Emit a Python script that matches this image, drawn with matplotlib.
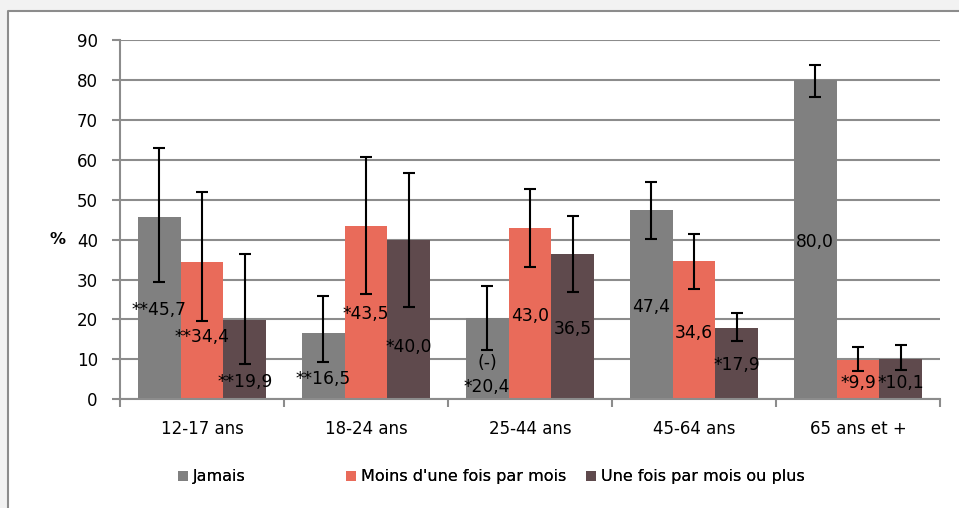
# -*- coding: utf-8 -*-
"""Fréquence par tranche d'âge : barres groupées avec intervalles de confiance."""
import numpy as np
import matplotlib; matplotlib.use("Agg")
import matplotlib.pyplot as plt
from matplotlib.patches import Rectangle
from matplotlib.lines import Line2D

AGES = ["12-17 ans", "18-24 ans", "25-44 ans", "45-64 ans", "65 ans et +"]
SERIES = ["Jamais", "Moins d'une fois par mois", "Une fois par mois ou plus"]

jamais = [45.7, 16.5, 20.4, 47.4, 80.0]
jamais_lo = [29.3, 9.4, 12.3, 40.1, 75.8]
jamais_hi = [62.9, 26.0, 28.3, 54.5, 83.7]
jamais_flag = ["**", "**", "*", "", ""]

moins = [34.4, 43.5, 43.0, 34.6, 9.9]
moins_lo = [19.7, 26.3, 33.2, 27.7, 7.2]
moins_hi = [51.9, 60.7, 52.7, 41.5, 13.2]
moins_flag = ["**", "*", "", "", "*"]

une = [19.9, 40.0, 36.5, 17.9, 10.1]
une_lo = [8.8, 23.2, 26.9, 14.7, 7.3]
une_hi = [36.4, 56.8, 45.9, 21.5, 13.5]
une_flag = ["**", "*", "", "*", "*"]

notes_jamais = ["", "", "(-)", "", ""]

# hauteur (en %) où les étiquettes sont posées, comme dans l'original
LAB_Y = [[22.3, 5.1, 3.2, 23.2, 39.4],
         [15.7, 21.3, 20.8, 16.5, 4.0],
         [4.4, 13.2, 17.5, 8.6, 4.0]]
NOTE_Y = 9.2
LEG_X = [178, 346, 586]   # position (px) de chaque entrée de légende

COLORS = ["#808080", "#e96b5a", "#5f4a4d"]
GRID = "#8c8c8c"; INK = "#000000"
plt.rcParams["font.family"] = "DejaVu Sans"

fig = plt.figure(figsize=(9.59, 5.08), dpi=100)
fig.patch.set_facecolor("#f2f2f2")
# cadre blanc du graphique (coupé à droite et en bas) : fond + bords haut/gauche
bx, by = 7.5/959, 1 - 10.5/508
fig.patches.append(Rectangle((bx, 0), 1 - bx, by, transform=fig.transFigure,
                             facecolor="white", edgecolor="none", zorder=-10))
fig.add_artist(Line2D([bx, bx, 1], [0, by, by], transform=fig.transFigure, color=GRID, lw=1.5, zorder=-9))
ax = fig.add_axes([120/959, (508-399.3)/508, 820/959, 359.3/508])
ax.set_facecolor("none")

x = np.arange(len(AGES)); w = 0.262
data = [(jamais, jamais_lo, jamais_hi, jamais_flag),
        (moins, moins_lo, moins_hi, moins_flag),
        (une, une_lo, une_hi, une_flag)]
handles = []
for i, (v, lo, hi, fl) in enumerate(data):
    v = np.array(v); xi = x + (i-1)*w
    err = [v - np.array(lo), np.array(hi) - v]
    handles.append(ax.bar(xi, v, w, color=COLORS[i], label=SERIES[i], zorder=2))
    ax.errorbar(xi, v, yerr=err, fmt="none", ecolor=INK, elinewidth=1.5,
                capsize=4.5, capthick=1.5, zorder=3)
    for k in range(len(AGES)):
        txt = fl[k] + f"{v[k]:.1f}".replace(".", ",")
        ax.text(xi[k], LAB_Y[i][k], txt, ha="center", va="center", fontsize=12.3, color=INK, zorder=4)
for k, n in enumerate(notes_jamais):
    if n:
        ax.text(x[k] - w, NOTE_Y, n, ha="center", va="center", fontsize=12.3, color=INK, zorder=4)

ax.set_xlim(-0.5, len(AGES) - 0.5); ax.set_ylim(0, 90)
ax.set_yticks(np.arange(0, 91, 10))
ax.yaxis.grid(True, color=GRID, lw=1.5); ax.set_axisbelow(True)
for s in ["top", "right"]: ax.spines[s].set_visible(False)
for s in ["left", "bottom"]: ax.spines[s].set_color(GRID); ax.spines[s].set_linewidth(1.5)
ax.tick_params(axis="y", length=6, width=1.5, color=GRID, labelsize=12, pad=10)
# graduations x aux limites des groupes, libellés au centre
ax.set_xticks(np.arange(-0.5, len(AGES), 1.0)); ax.set_xticklabels([])
ax.set_xticks(x, minor=True); ax.set_xticklabels(AGES, minor=True, fontsize=12)
ax.tick_params(axis="x", which="major", length=6, width=1.5, color=GRID)
ax.tick_params(axis="x", which="minor", length=0, pad=15)

fig.text(57/959, (508-239)/508, "%", fontsize=11.5, weight="bold", ha="center", va="center")
for h, name, lx in zip(handles, SERIES, LEG_X):
    leg = fig.legend([h], [name], loc="center left", bbox_to_anchor=(lx/959, (508-477)/508),
                     frameon=False, fontsize=11.5, handlelength=0.65, handleheight=0.65,
                     handletextpad=0.3, borderpad=0, borderaxespad=0)
    fig.add_artist(leg)
fig.savefig("out.png", dpi=100, facecolor=fig.get_facecolor())
